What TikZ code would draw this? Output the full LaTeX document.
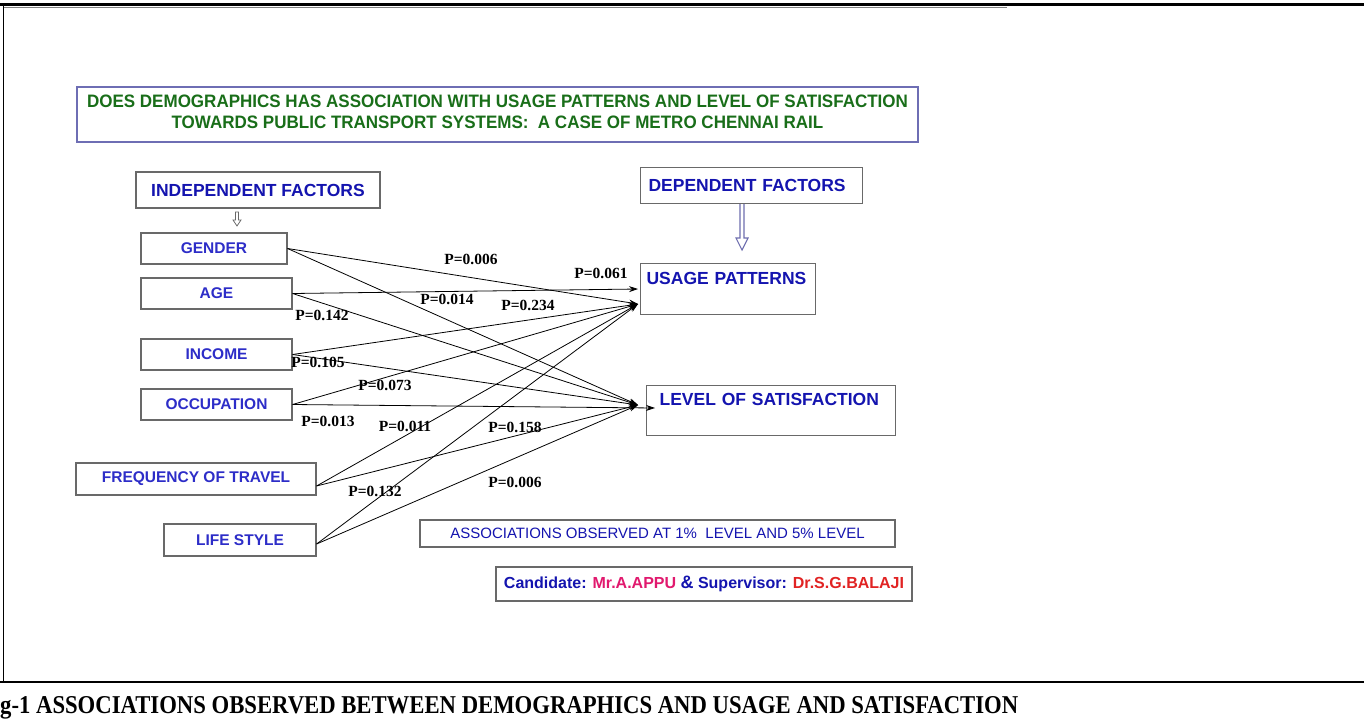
\documentclass[tikz,border=0pt]{standalone}
\usepackage{fontspec}
\setmainfont{Liberation Serif}
\newfontfamily\arialf{Liberation Sans}
\newfontfamily\titlef[FakeStretch=0.945]{Liberation Sans}
\usetikzlibrary{arrows.meta}
\definecolor{factblue}{RGB}{45,45,200}
\definecolor{headblue}{RGB}{20,20,175}
\definecolor{titlegreen}{RGB}{25,110,25}
\definecolor{boxgray}{RGB}{105,105,105}
\definecolor{titleborder}{RGB}{110,110,180}
\definecolor{candmag}{RGB}{225,25,110}
\definecolor{candred}{RGB}{225,35,35}
\definecolor{arrowgray}{RGB}{110,110,175}
\begin{document}
\begin{tikzpicture}[x=1pt,y=-1pt,
  fbox/.style={draw=boxgray, line width=1.1pt, inner sep=0pt, text=factblue,
    font=\arialf\bfseries\fontsize{15.5}{18}\selectfont},
  hbox/.style={draw=boxgray, line width=1.1pt, text=headblue,
    font=\arialf\bfseries\fontsize{17.5}{20}\selectfont},
  plab/.style={font=\bfseries\fontsize{15.5}{17}\selectfont, inner sep=0pt},
  conn/.style={line width=0.8pt, -{Stealth[length=9pt,width=6pt]}}]
\useasboundingbox (0,0) rectangle (1364,721);
\fill[white] (0,0) rectangle (1364,721);

% frame
\draw[line width=3.5pt] (0,4.5) -- (1364,4.5);
\draw[gray, line width=1.5pt] (4,7.5) -- (1007,7.5);
\draw[line width=1pt] (3.5,5) -- (3.5,682);
\draw[line width=1.3pt] (0,682) -- (1010,682);
\draw[line width=2.6pt] (1010,682) -- (1364,682);
\node[anchor=base west, inner sep=0pt] (caption) at (0,713)
  {\resizebox{1018pt}{17pt}{\bfseries g-1 ASSOCIATIONS OBSERVED BETWEEN DEMOGRAPHICS AND USAGE AND SATISFACTION}};

% title
\node[draw=titleborder, line width=1.1pt, minimum width=841pt, minimum height=55pt,
  inner sep=0pt] (title) at (497.5,114.5) {};
\node[inner sep=0pt, align=center, text=titlegreen,
  font=\titlef\bfseries\fontsize{18}{21}\selectfont] (titletext) at (497.5,111.5)
  {DOES DEMOGRAPHICS HAS ASSOCIATION WITH USAGE PATTERNS AND LEVEL OF SATISFACTION\\
   TOWARDS PUBLIC TRANSPORT SYSTEMS:\ \ A CASE OF METRO CHENNAI RAIL};

% headers
\node[hbox, minimum width=244pt, minimum height=36pt, inner sep=0pt] (indep) at (258,190)
  {INDEPENDENT FACTORS};
\node[hbox, anchor=north west, minimum height=36pt, text width=206pt, inner xsep=8pt,
  inner ysep=0pt, align=left] (dep) at (640,167) {DEPENDENT FACTORS};

% independent factors
\node[fbox, minimum width=146pt, minimum height=31pt] (gender) at (214,248.5) {GENDER};
\node[fbox, minimum width=151pt, minimum height=31pt] (age) at (216.5,293.5) {AGE};
\node[fbox, minimum width=151pt, minimum height=31pt] (income) at (216.5,354.5) {INCOME};
\node[fbox, minimum width=151pt, minimum height=31pt] (occ) at (216.5,404.5) {OCCUPATION};
\node[fbox, minimum width=240pt, minimum height=32pt] (freq) at (196,479) {FREQUENCY OF TRAVEL};
\node[fbox, minimum width=152pt, minimum height=32pt] (life) at (240,540) {LIFE STYLE};

% dependent factors
\node[hbox, anchor=north west, inner xsep=6pt, inner ysep=0pt, text width=163pt,
  text height=21.4pt, text depth=29.6pt, align=left] (usage) at (640,263) {USAGE PATTERNS};
\node[hbox, anchor=north west, inner xsep=13pt, inner ysep=0pt, text width=223pt,
  text height=20.3pt, text depth=29.7pt, align=left] (level) at (646,385) {LEVEL OF SATISFACTION};

% notes
\node[draw=boxgray, line width=1.1pt, minimum width=475pt, minimum height=27pt, inner sep=0pt,
  text=headblue, font=\arialf\fontsize{15}{17}\selectfont] (assoc) at (657.5,533.5)
  {ASSOCIATIONS OBSERVED AT 1\%\ \ LEVEL AND 5\% LEVEL};
\node[draw=boxgray, line width=1.1pt, minimum width=416pt, minimum height=34pt, inner sep=0pt,
  font=\arialf\bfseries\fontsize{16}{18}\selectfont] (cand) at (704,584)
  {\textcolor{headblue}{Candidate:} \textcolor{candmag}{Mr.A.APPU} \textcolor{headblue}{{\fontsize{18}{18}\selectfont\&} Supervisor:} \textcolor{candred}{Dr.S.G.BALAJI}};

% small arrows
\draw[boxgray, line width=0.8pt] (235.5,212) -- (235.5,220) -- (233,220) -- (237,226) -- (241,220)
  -- (238.5,220) -- (238.5,212) -- cycle;
\coordinate (dtip) at (742,250);
\draw[arrowgray, line width=1.1pt] (dep.south -| 740,0) -- (740,238) -- (736,238) -- (dtip)
  -- (748,238) -- (744,238) -- (dep.south -| 744,0);

% convergence points
\coordinate (u1) at (638,289);
\coordinate (u2) at (638,304);
\coordinate (l1) at (638,405);
\coordinate (l2) at (655,408);

% connectors
\draw[conn] (gender.east) -- (u2);
\draw[conn] (gender.east) -- (l1);
\draw[conn] (age.east) -- (u1);
\draw[conn] (age.east) -- (l1);
\draw[conn] (income.east) -- (u2);
\draw[conn] (income.east) -- (l1);
\draw[conn] (occ.east) -- (u2);
\draw[conn] (occ.east) -- (l2);
\draw[conn] ([yshift=-7pt]freq.east) -- (u2);
\draw[conn] ([yshift=-7pt]freq.east) -- (l1);
\draw[conn] ([yshift=-4pt]life.east) -- (u2);
\draw[conn] ([yshift=-4pt]life.east) -- (l1);

% p-values
\node[plab] (p1) at (471,259) {P=0.006};
\node[plab] (p2) at (601,273) {P=0.061};
\node[plab] (p3) at (447,299) {P=0.014};
\node[plab] (p4) at (528,305) {P=0.234};
\node[plab] (p5) at (322,315) {P=0.142};
\node[plab] (p6) at (318,362) {P=0.105};
\node[plab] (p7) at (385,385) {P=0.073};
\node[plab] (p8) at (328,421) {P=0.013};
\node[plab] (p9) at (405,426) {P=0.011};
\node[plab] (p10) at (515,427) {P=0.158};
\node[plab] (p11) at (375,491) {P=0.132};
\node[plab] (p12) at (515,482) {P=0.006};
\end{tikzpicture}
\end{document}
